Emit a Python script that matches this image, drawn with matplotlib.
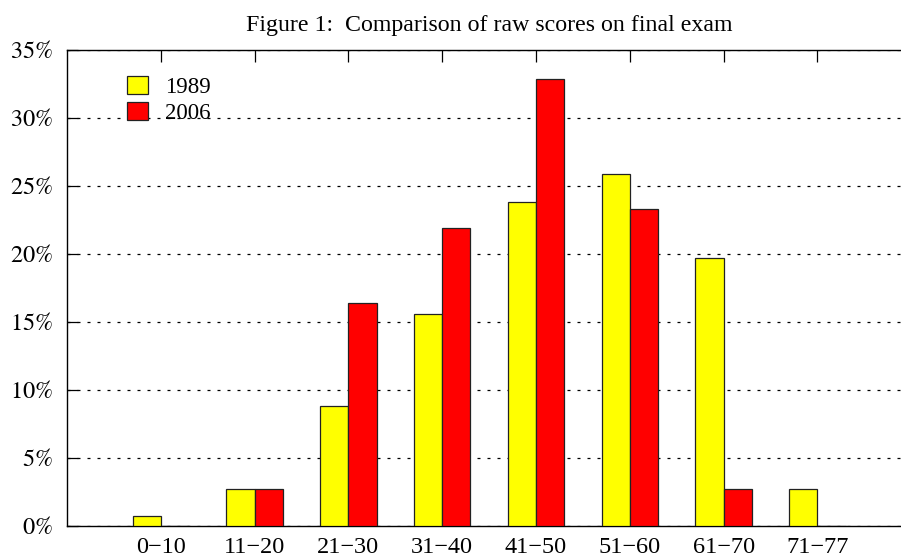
import numpy as np
import matplotlib
matplotlib.use("Agg")
import matplotlib.pyplot as plt
from matplotlib.patches import Patch
from matplotlib.ticker import FuncFormatter

# === Data (percent of students per score band) ===
score_bands = ["0\u221210", "11\u221220", "21\u221230", "31\u221240",
               "41\u221250", "51\u221260", "61\u221270", "71\u221277"]
pct_1989 = [0.7, 2.7, 8.8, 15.6, 23.8, 25.9, 19.7, 2.7]
pct_2006 = [0.0, 2.7, 16.4, 21.9, 32.9, 23.3, 2.7, 0.0]
series_labels = ["1989", "2006"]

plt.rcParams['font.family'] = ['Liberation Serif', 'DejaVu Serif']
plt.rcParams['mathtext.fontset'] = 'stix'

W, H = 901, 557
fig = plt.figure(figsize=(W / 100, H / 100), dpi=100)
ax = fig.add_axes([67 / W, 31 / H, (W - 67) / W, 476 / H])

x = np.arange(len(score_bands))
bw = 0.3
ax.bar(x - bw / 2, pct_1989, width=bw, color='#ffff00', edgecolor='#222222',
       linewidth=0.9, zorder=3)
ax.bar(x + bw / 2, pct_2006, width=bw, color='#ff0000', edgecolor='#222222',
       linewidth=0.9, zorder=3)

ax.set_xlim(-1, -1 + (W - 67) / 93.8)
ax.set_ylim(0, 35)

# === Axes / ticks, gnuplot-like ===
ax.set_yticks(np.arange(0, 36, 5))
ax.yaxis.set_major_formatter(FuncFormatter(lambda v, _: rf"${int(v)}\mathit{{\%}}$"))
ax.tick_params(axis='y', direction='in', length=8, width=0.9, pad=10,
               labelsize=17.5, right=False)
ax.set_xticks(x)
ax.set_xticklabels(score_bands)
ax.tick_params(axis='x', direction='in', length=8.5, width=0.9, pad=8,
               labelsize=17.5, bottom=False, top=True, labeltop=False)
for side in ['left', 'top', 'bottom']:
    ax.spines[side].set_linewidth(1.0)
ax.spines['right'].set_visible(False)

ax.grid(True, axis='y', color='black', linewidth=0.9,
        linestyle=(0, (2.4, 5.6)), zorder=1)
ax.set_axisbelow(True)

handles = [Patch(facecolor='#ffff00', edgecolor='#222222', linewidth=0.9),
           Patch(facecolor='#ff0000', edgecolor='#222222', linewidth=0.9)]
ax.legend(handles, series_labels, loc='upper left',
          bbox_to_anchor=(127 / W, 1 - 76 / H), bbox_transform=fig.transFigure,
          frameon=False, fontsize=16.5, handlelength=0.9, handleheight=0.85,
          handletextpad=0.75, labelspacing=0.15, borderpad=0, borderaxespad=0)

fig.text(489 / W, 1 - 25 / H, "Figure 1:  Comparison of raw scores on final exam",
         ha='center', va='center', fontsize=17.2)

fig.savefig("out.png", dpi=100)
